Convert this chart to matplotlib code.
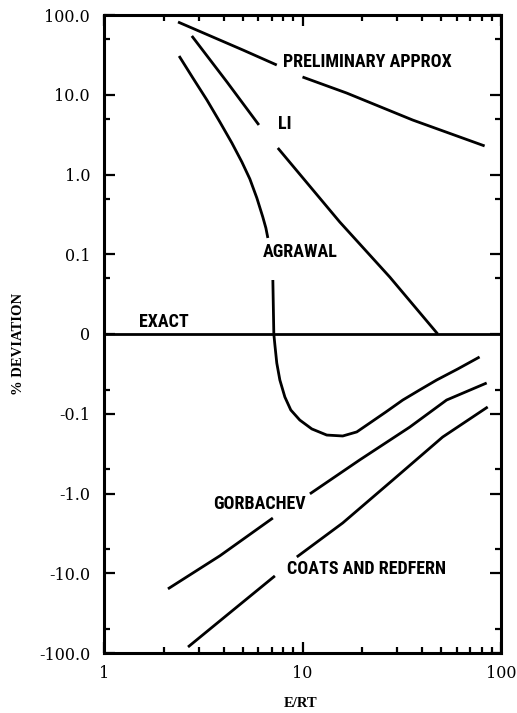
import numpy as np
import matplotlib
matplotlib.use("Agg")
import matplotlib.pyplot as plt
from matplotlib import font_manager
from matplotlib.ticker import FixedLocator, FixedFormatter, LogLocator, NullFormatter

nan = np.nan

# curves (E/RT, % deviation); nan = gap left for a label
prelim_x = [2.36, 5.01, 7.42, nan, 10.0, 16.7, 35.9, 82.7]
prelim_y = [81.7, 36.4, 23.6, nan, 16.7, 10.5, 4.82, 2.28]

li_x = [2.77, 4.16, 6.03, nan, 7.51, 15.4, 27.5, 48.0]
li_y = [54.6, 14.5, 4.18, nan, 2.15, 0.254, 0.0715, 0.0]

agrawal_x = [2.39, 2.805, 3.30, 3.836, 4.41, 4.95, 5.43, 5.89, 6.31, 6.54, 6.69, nan,
             7.09, 7.17, 7.26, 7.42, 7.69, 8.15, 8.73, 9.69, 11.14, 13.25, 15.95,
             18.77, 21.8, 26.3, 32.0, 38.9, 47.4, 60.5, 78.0]
agrawal_y = [30.6, 16.2, 8.59, 4.55, 2.48, 1.435, 0.879, 0.507, 0.293, 0.213, 0.160, nan,
             0.0677, 0.0, -0.0138, -0.0364, -0.0577, -0.079, -0.0953, -0.120, -0.155, -0.185, -0.190,
             -0.169, -0.131, -0.0978, -0.0828, -0.0702, -0.0577, -0.0439, -0.0288]

gorb_x = [2.10, 3.84, 7.09, nan, 10.9, 19.4, 34.7, 53.2, 84.7]
gorb_y = [-15.7, -6.03, -2.03, nan, -1.01, -0.380, -0.147, -0.0828, -0.0614]

coats_x = [2.65, 4.38, 7.26, nan, 9.36, 15.95, 28.5, 50.8, 85.7]
coats_y = [-84.1, -30.2, -10.8, nan, -6.25, -2.34, -0.678, -0.196, -0.0915]

exact_x = [1, 100]
exact_y = [0, 0]

# curve labels: text, x, y
label_text = ["PRELIMINARY APPROX", "LI", "AGRAWAL", "EXACT", "GORBACHEV", "COATS AND REDFERN"]
label_x = [7.96, 7.51, 6.31, 1.50, 3.54, 8.34]
label_y = [25.7, 4.3, 0.107, 0.015, -1.355, -8.85]

ytick_vals = [100, 10, 1, 0.1, 0, -0.1, -1, -10, -100]
ytick_labels = ["100.0", "10.0", "1.0", "0.1", "0", "-0.1", "-1.0", "-10.0", "-100.0"]
yminor_vals = [50, 5, 0.5, 0.07, -0.07, -0.5, -5, -50]


# log decades above |0.1|, linear in between
def fwd(v):
    v = np.asarray(v, dtype=float)
    a = np.abs(v)
    with np.errstate(divide="ignore", invalid="ignore"):
        lg = np.sign(v) * (np.log10(np.where(a > 0, a, 1.0)) + 2)
    return np.where(a >= 0.1, lg, v * 10)


def inv(u):
    u = np.asarray(u, dtype=float)
    a = np.abs(u)
    return np.where(a >= 1, np.sign(u) * 10.0 ** (a - 2), u / 10)


# narrow bold face for the curve labels, whichever is around
names = {f.name for f in font_manager.fontManager.ttflist}
label_font = "DejaVu Sans"
for cand in ["Roboto Condensed", "Liberation Sans Narrow", "Archivo Narrow", "PT Sans Narrow",
             "Fira Sans Condensed", "IBM Plex Sans Condensed", "Barlow Condensed"]:
    if cand in names:
        label_font = cand
        break

fig = plt.figure(figsize=(5.17, 7.13), dpi=100)
ax = fig.add_axes([104 / 517, 1 - 653 / 713, 397 / 517, 638 / 713])

lw = 2.0
for xs, ys in [(prelim_x, prelim_y), (li_x, li_y), (agrawal_x, agrawal_y),
               (gorb_x, gorb_y), (coats_x, coats_y), (exact_x, exact_y)]:
    ax.plot(xs, ys, color="black", lw=lw, solid_capstyle="butt", solid_joinstyle="round")

ax.set_xscale("log")
ax.set_yscale("function", functions=(fwd, inv))
ax.set_xlim(1, 100)
ax.set_ylim(-100, 100)

ax.yaxis.set_major_locator(FixedLocator(ytick_vals))
ax.yaxis.set_major_formatter(FixedFormatter(ytick_labels))
ax.yaxis.set_minor_locator(FixedLocator(yminor_vals))
ax.yaxis.set_minor_formatter(NullFormatter())

ax.xaxis.set_major_locator(FixedLocator([1, 10, 100]))
ax.xaxis.set_major_formatter(FixedFormatter(["1", "10", "100"]))
ax.xaxis.set_minor_locator(LogLocator(base=10, subs=np.arange(2, 10)))
ax.xaxis.set_minor_formatter(NullFormatter())

ax.tick_params(which="both", direction="in", top=True, right=True, width=1.6, colors="black")
ax.tick_params(which="major", length=8)
ax.tick_params(which="minor", length=4)
ax.tick_params(axis="y", which="major", pad=10)
ax.tick_params(axis="x", which="major", pad=9)
for lab in ax.get_xticklabels() + ax.get_yticklabels():
    lab.set_fontfamily("DejaVu Serif")
    lab.set_fontsize(11.5)

for s in ax.spines.values():
    s.set_linewidth(2.2)

for t, x, y in zip(label_text, label_x, label_y):
    ax.text(x, y, t, ha="left", va="center", fontsize=13, fontweight="bold",
            family=[label_font, "DejaVu Sans"])

ax.set_ylabel("% DEVIATION", fontsize=10.5, fontweight="bold", family="Liberation Serif")
ax.yaxis.set_label_coords(-0.199, 0.484)
ax.set_xlabel("E/RT", fontsize=10.5, fontweight="bold", family="Liberation Serif")
ax.xaxis.set_label_coords(0.494, -0.069)

fig.savefig("out.png", dpi=100)
